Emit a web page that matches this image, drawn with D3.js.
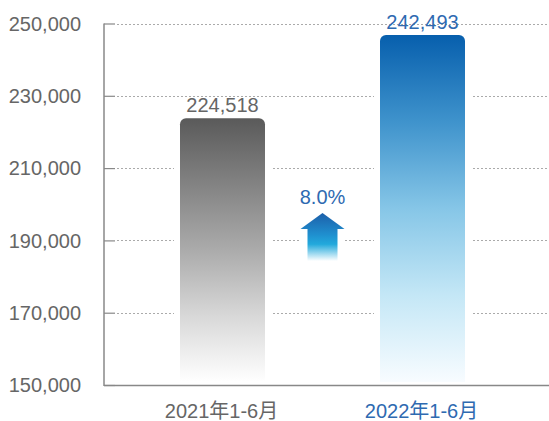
<!DOCTYPE html>
<html>
<head>
<meta charset="utf-8">
<script src="https://cdn.jsdelivr.net/npm/d3@7"></script>
<style>
    body { margin: 0; background: #fff; }
    svg { display: block; font-family: "Liberation Sans", Arial, "Noto Sans CJK SC", sans-serif; }
</style>
</head>
<body>
<div id="chart"></div>
<script>
const categories = ["2021年1-6月", "2022年1-6月"];
// bar heights
const barValues = [223800, 246800];
const valueLabels = ["224,518", "242,493"];
const growthLabel = "8.0%";
const yTicks = [150000, 170000, 190000, 210000, 230000, 250000];

const width = 549;
const height = 421;
const axisLeft = 104;
const grey = "#666666";
const blue = "#2e6ab1";
const labelColors = [grey, blue];

const svg = d3.select("#chart")
    .append("svg")
    .attr("width", width)
    .attr("height", height);

const defs = svg.append("defs");

// gradients for the two bars and the arrow
const gradStops = [
    [["0%", "#5a5a5a"], ["50%", "#ababab"], ["75%", "#d8d8d8"], ["100%", "#ffffff"]],
    [["0%", "#075fad"], ["25%", "#3f93cc"], ["50%", "#86c6e7"], ["75%", "#c4e7f6"], ["100%", "#f8fcff"]]
];
gradStops.forEach((stops, i) => {
    const g = defs.append("linearGradient")
        .attr("id", `barGrad${i}`)
        .attr("x1", 0).attr("y1", 0).attr("x2", 0).attr("y2", 1);
    g.selectAll("stop")
        .data(stops)
        .join("stop")
        .attr("offset", (d) => d[0])
        .attr("stop-color", (d) => d[1]);
});
const arrowGrad = defs.append("linearGradient")
    .attr("id", "arrowGrad")
    .attr("x1", 0).attr("y1", 0).attr("x2", 0).attr("y2", 1);
arrowGrad.selectAll("stop")
    .data([["0%", "#1d5fa9"], ["45%", "#1f8fcf"], ["65%", "#22a9dc"], ["100%", "#ffffff"]])
    .join("stop")
    .attr("offset", (d) => d[0])
    .attr("stop-color", (d) => d[1]);

// scales
const x = d3.scaleBand()
    .domain(categories)
    .range([100, 545])
    .paddingInner(0.575)
    .paddingOuter(0.4);

const y = d3.scaleLinear()
    .domain([150000, 250000])
    .range([385, 23.5]);

// y axis: ticks point inward and continue as dotted grid lines
const yAxis = svg.append("g")
    .attr("transform", `translate(${axisLeft},0)`)
    .call(d3.axisRight(y).tickValues(yTicks).tickSize(11).tickFormat(""))
    .call((g) => g.select(".domain").remove())
    .call((g) => g.selectAll(".tick line").attr("stroke", "#888").attr("stroke-width", 1.2));

svg.append("g")
    .selectAll("line")
    .data(yTicks.slice(1))
    .join("line")
    .attr("x1", axisLeft + 13)
    .attr("x2", width)
    .attr("y1", (d) => Math.round(y(d)) + 0.5)
    .attr("y2", (d) => Math.round(y(d)) + 0.5)
    .attr("stroke", "#aaaaaa")
    .attr("stroke-width", 1)
    .attr("stroke-dasharray", "2,2");

svg.append("g")
    .selectAll("text")
    .data(yTicks)
    .join("text")
    .attr("x", 81)
    .attr("y", (d) => y(d))
    .attr("dy", "0.36em")
    .attr("text-anchor", "end")
    .attr("font-size", 20)
    .attr("fill", grey)
    .text((d) => d3.format(",")(d));

// bars with white halo breaking the grid lines
const bw = x.bandwidth();
const r = 6;
function barPath(x0, top, w, bottom) {
    const p = d3.path();
    p.moveTo(x0, bottom);
    p.lineTo(x0, top + r);
    p.arcTo(x0, top, x0 + r, top, r);
    p.lineTo(x0 + w - r, top);
    p.arcTo(x0 + w, top, x0 + w, top + r, r);
    p.lineTo(x0 + w, bottom);
    p.closePath();
    return p.toString();
}

const bars = svg.append("g")
    .selectAll("g")
    .data(categories.map((c, i) => ({ cat: c, value: barValues[i], label: valueLabels[i], i })))
    .join("g");

bars.append("rect")
    .attr("x", (d) => x(d.cat) - 6)
    .attr("y", (d) => y(d.value) - 4)
    .attr("width", bw + 12)
    .attr("height", (d) => y(150000) - y(d.value) + 2)
    .attr("fill", "#fff");

bars.append("path")
    .attr("d", (d) => barPath(x(d.cat), y(d.value), bw, y(150000) - 3))
    .attr("fill", (d) => `url(#barGrad${d.i})`);

bars.append("text")
    .attr("x", (d) => x(d.cat) + bw / 2)
    .attr("y", (d) => y(d.value) - 6)
    .attr("text-anchor", "middle")
    .attr("font-size", 20)
    .attr("fill", (d) => labelColors[d.i])
    .text((d) => d.label);

// x axis baseline
svg.append("line")
    .attr("x1", axisLeft)
    .attr("x2", width)
    .attr("y1", y(150000) + 0.5)
    .attr("y2", y(150000) + 0.5)
    .attr("stroke", "#888")
    .attr("stroke-width", 1.5);

svg.append("line")
    .attr("x1", axisLeft)
    .attr("x2", axisLeft)
    .attr("y1", y(250000))
    .attr("y2", y(150000) + 1)
    .attr("stroke", "#888")
    .attr("stroke-width", 1.5);

// category labels
svg.append("g")
    .selectAll("text")
    .data(categories)
    .join("text")
    .attr("x", (d) => x(d) + bw / 2 - 1)
    .attr("y", 418)
    .attr("text-anchor", "middle")
    .attr("font-size", 20)
    .attr("fill", (d, i) => labelColors[i])
    .text((d) => d);

// growth arrow between the bars
const cx = (x(categories[0]) + x(categories[1]) + bw) / 2;
const tipY = 213;
const arrow = d3.path();
arrow.moveTo(cx, tipY);
arrow.lineTo(cx + 22, tipY + 16);
arrow.lineTo(cx + 15, tipY + 16);
arrow.lineTo(cx + 15, tipY + 48);
arrow.lineTo(cx - 15, tipY + 48);
arrow.lineTo(cx - 15, tipY + 16);
arrow.lineTo(cx - 22, tipY + 16);
arrow.closePath();

svg.append("rect")
    .attr("x", cx - 22)
    .attr("y", tipY + 16)
    .attr("width", 44)
    .attr("height", 34)
    .attr("fill", "#fff");

svg.append("path")
    .attr("d", arrow.toString())
    .attr("fill", "url(#arrowGrad)");

svg.append("text")
    .attr("x", cx)
    .attr("y", tipY - 9)
    .attr("text-anchor", "middle")
    .attr("font-size", 20)
    .attr("fill", blue)
    .text(growthLabel);
</script>
</body>
</html>
